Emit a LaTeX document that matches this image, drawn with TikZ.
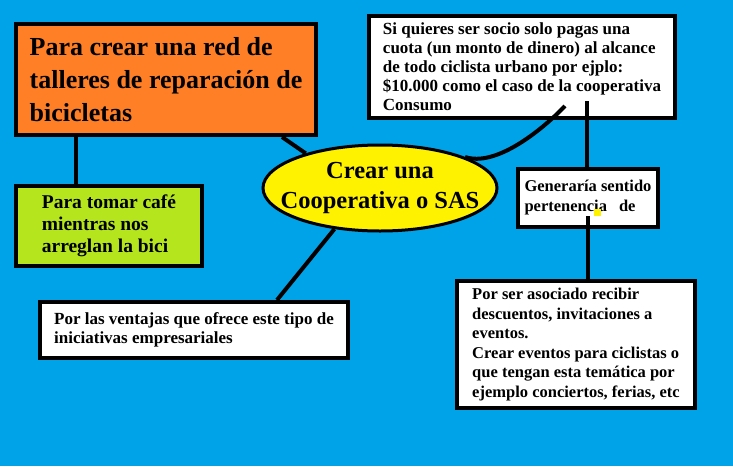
\documentclass[tikz,border=0pt]{standalone}
\usepackage{fontspec}
\setmainfont{Liberation Serif}
\usepackage{tikz}
\usetikzlibrary{shapes.geometric, calc}
\usepackage{xcolor}
\definecolor{color1}{RGB}{0, 162, 232}
\definecolor{color2}{RGB}{255, 127, 39}
\definecolor{color3}{RGB}{181, 230, 29}
\definecolor{color4}{RGB}{255, 242, 0}
\tikzset{card/.style={draw=black, line width=4pt, align=left, anchor=north west, inner sep=0pt},
    link/.style={line width=4pt}}

\begin{document}
\begin{tikzpicture}[x=1pt, y=-1pt]
        \fill[color1] (0,0) rectangle (733,466);
        \node (idea) [ellipse, draw=black, line width=3pt, fill=color4, minimum width=234, minimum height=86, inner xsep=-17pt, inner ysep=0pt, align=center, font=\bfseries\fontsize{24.5}{30}\selectfont] at (380,188) {Crear una\\Cooperativa o SAS};
        \node (repair) [card, fill=color2, minimum width=300, minimum height=111, font=\bfseries\fontsize{26}{33}\selectfont] at (14,22) {Para crear una red de\\talleres de reparación de\\bicicletas};
        \node (cafe) [card, fill=color3, minimum width=186, minimum height=80, font=\bfseries\fontsize{19.5}{22}\selectfont] at (14,184) {Para tomar café\\mientras nos\\arreglan la bici};
        \node (ventajas) [card, fill=white, minimum width=308, minimum height=56, font=\bfseries\fontsize{17}{19}\selectfont] at (38,300) {Por las ventajas que ofrece este tipo de\\iniciativas empresariales};
        \node (socio) [card, fill=white, minimum width=306, minimum height=102, font=\bfseries\fontsize{17}{19}\selectfont] at (367,14) {Si quieres ser socio solo pagas una\\cuota (un monto de dinero) al alcance\\de todo ciclista urbano por ejplo:\\\$10.000 como el caso de la cooperativa\\Consumo};
        \node (gen) [card, fill=white, minimum width=140, minimum height=58, font=\bfseries\fontsize{16.5}{20}\selectfont] at (516,167) {Generaría sentido\\pertenencia\hspace{12pt}de};
        \node (eventos) [card, fill=white, minimum width=238, minimum height=127, font=\bfseries\fontsize{16.5}{19.5}\selectfont] at (455,279) {Por ser asociado recibir\\descuentos, invitaciones a\\eventos.\\Crear eventos para ciclistas o\\que tengan esta temática por\\ejemplo conciertos, ferias, etc};
        \draw[link] ([xshift=62]repair.south west) -- ([xshift=62]cafe.north west);
        \draw[link] ([xshift=-36]repair.south east) -- (idea.155);
        \draw[link] (idea.222) -- ([xshift=239]ventajas.north west);
        \draw[link] (idea.20) .. controls +(30,10) and +(-25,26) .. ([xshift=198,yshift=14]socio.south west);
        \draw[link] ([xshift=220,yshift=19]socio.south west) -- ([xshift=71]gen.north west);
        \draw[link] ([xshift=72,yshift=13]gen.south west) -- ([xshift=133]eventos.north west);
        \fill[color4] (594,209) rectangle (601,216);
    \end{tikzpicture}
\end{document}
